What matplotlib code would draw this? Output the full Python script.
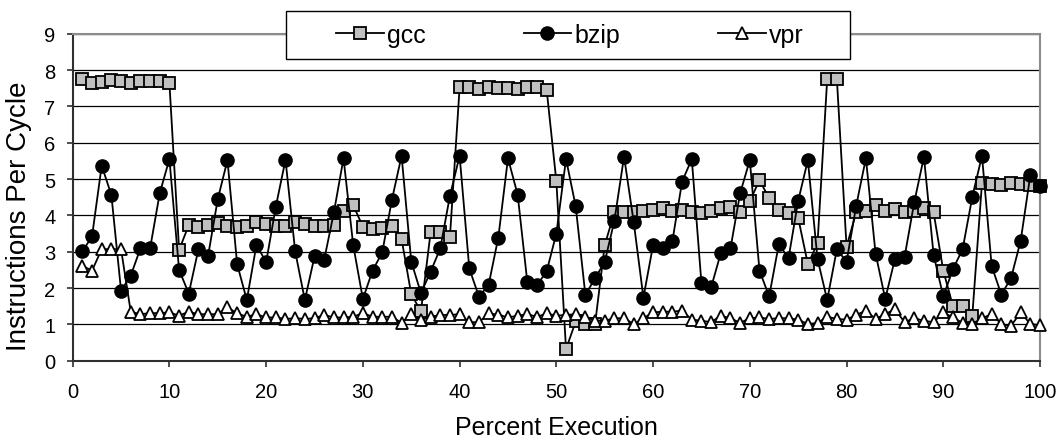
import matplotlib
matplotlib.use("Agg")
import matplotlib.pyplot as plt
from matplotlib.patches import Rectangle
import numpy as np

plt.rcParams['font.family'] = ['Liberation Sans', 'DejaVu Sans']

# percent of execution, one sample per percent
percent = np.arange(1, 101)

gcc = [7.75, 7.63, 7.68, 7.72, 7.71, 7.64, 7.71, 7.71, 7.71, 7.64,
       3.05, 3.73, 3.67, 3.74, 3.78, 3.72, 3.67, 3.72, 3.81, 3.76,
       3.70, 3.72, 3.81, 3.76, 3.70, 3.72, 3.73, 4.13, 4.28, 3.69,
       3.62, 3.65, 3.70, 3.35, 1.83, 1.36, 3.53, 3.53, 3.41, 7.52,
       7.54, 7.48, 7.52, 7.50, 7.50, 7.48, 7.52, 7.54, 7.45, 4.94,
       0.32, 1.08, 1.02, 1.00, 3.18, 4.08, 4.08, 4.08, 4.11, 4.16,
       4.19, 4.13, 4.16, 4.08, 4.06, 4.12, 4.20, 4.24, 4.10, 4.39,
       4.97, 4.47, 4.16, 4.06, 3.93, 2.66, 3.23, 7.75, 7.75, 3.14,
       4.08, 4.13, 4.28, 4.11, 4.17, 4.10, 4.13, 4.19, 4.08, 2.48,
       1.50, 1.50, 1.24, 4.89, 4.86, 4.84, 4.88, 4.86, 4.83, 4.82]

bzip = [3.01, 3.42, 5.37, 4.56, 1.93, 2.34, 3.09, 3.09, 4.61, 5.55,
        2.50, 1.85, 3.07, 2.89, 4.45, 5.52, 2.66, 1.67, 3.19, 2.71,
        4.24, 5.53, 3.01, 1.67, 2.87, 2.78, 4.08, 5.57, 3.18, 1.70,
        2.48, 2.98, 4.43, 5.64, 2.73, 1.86, 2.45, 3.09, 4.54, 5.64,
        2.54, 1.76, 2.09, 3.39, 5.57, 4.57, 2.16, 2.08, 2.46, 3.50,
        5.55, 4.25, 1.81, 2.27, 2.72, 3.85, 5.62, 3.81, 1.74, 3.18,
        3.09, 3.30, 4.93, 5.55, 2.13, 2.02, 2.96, 3.09, 4.61, 5.52,
        2.48, 1.77, 3.21, 2.82, 4.40, 5.52, 2.80, 1.67, 3.07, 2.72,
        4.27, 5.57, 2.95, 1.70, 2.80, 2.86, 4.36, 5.61, 2.91, 1.77,
        2.52, 3.07, 4.51, 5.64, 2.61, 1.82, 2.27, 3.30, 5.11, 4.82]

vpr = [2.61, 2.48, 3.07, 3.07, 3.07, 1.35, 1.28, 1.31, 1.31, 1.33,
       1.24, 1.35, 1.28, 1.28, 1.28, 1.47, 1.30, 1.21, 1.28, 1.19,
       1.19, 1.15, 1.17, 1.15, 1.17, 1.26, 1.19, 1.19, 1.21, 1.31,
       1.21, 1.21, 1.21, 1.04, 1.28, 1.12, 1.21, 1.26, 1.26, 1.28,
       1.06, 1.06, 1.30, 1.27, 1.19, 1.24, 1.28, 1.21, 1.30, 1.24,
       1.26, 1.28, 1.21, 1.10, 1.10, 1.17, 1.17, 1.01, 1.17, 1.33,
       1.35, 1.35, 1.38, 1.13, 1.10, 1.06, 1.24, 1.17, 1.04, 1.17,
       1.19, 1.15, 1.17, 1.17, 1.13, 1.01, 1.04, 1.21, 1.15, 1.13,
       1.26, 1.38, 1.15, 1.28, 1.42, 1.06, 1.17, 1.10, 1.06, 1.33,
       1.19, 1.04, 1.01, 1.17, 1.28, 1.01, 0.96, 1.33, 1.01, 0.98]

fig = plt.figure(figsize=(10.58, 4.39), dpi=100)
ax = fig.add_axes([0.0687, 0.176, 0.9143, 0.745])

ax.plot(percent, gcc, color='black', lw=1.3, marker='s', ms=8,
        mfc='#c0c0c0', mec='black', mew=1.3, label='gcc', clip_on=False, zorder=3)
ax.plot(percent, bzip, color='black', lw=1.3, marker='o', ms=9.5,
        mfc='black', mec='black', label='bzip', clip_on=False, zorder=4)
ax.plot(percent, vpr, color='black', lw=1.3, marker='^', ms=9,
        mfc='white', mec='black', mew=1.3, label='vpr', clip_on=False, zorder=5)

ax.set_xlim(0, 100)
ax.set_ylim(0, 9)
ax.set_xticks(np.arange(0, 101, 10))
ax.set_yticks(np.arange(0, 10, 1))
ax.yaxis.grid(True, color='black', lw=0.9)
ax.set_axisbelow(True)

for side in ['top', 'right']:
    ax.spines[side].set_color('#8c8c8c')
    ax.spines[side].set_linewidth(1.5)
for side in ['left', 'bottom']:
    ax.spines[side].set_color('#303030')
    ax.spines[side].set_linewidth(1.5)

ax.tick_params(axis='both', direction='out', length=4.3, width=1.2,
               color='#303030', labelsize=14.5)
ax.tick_params(axis='x', pad=11)
ax.tick_params(axis='y', pad=8)

ax.set_xlabel('Percent Execution', fontsize=18, va='center')
ax.xaxis.set_label_coords(0.5, -0.203)
ax.set_ylabel('Instructions Per Cycle', fontsize=20, va='center')
ax.yaxis.set_label_coords(-0.0555, 0.4456)

# legend box sits over the top of the plot area
fig.add_artist(Rectangle((286 / 1058, 1 - 60 / 439), 564 / 1058, 48 / 439,
                         transform=fig.transFigure, facecolor='white',
                         edgecolor='black', lw=1.0, zorder=4))
fig.legend(loc='center', bbox_to_anchor=(570 / 1058, 1 - 36 / 439), ncol=3,
           frameon=False, fontsize=18, handlelength=1.9, handletextpad=0.15,
           columnspacing=3.9, borderpad=0.2)

fig.savefig('out.png', dpi=100)
